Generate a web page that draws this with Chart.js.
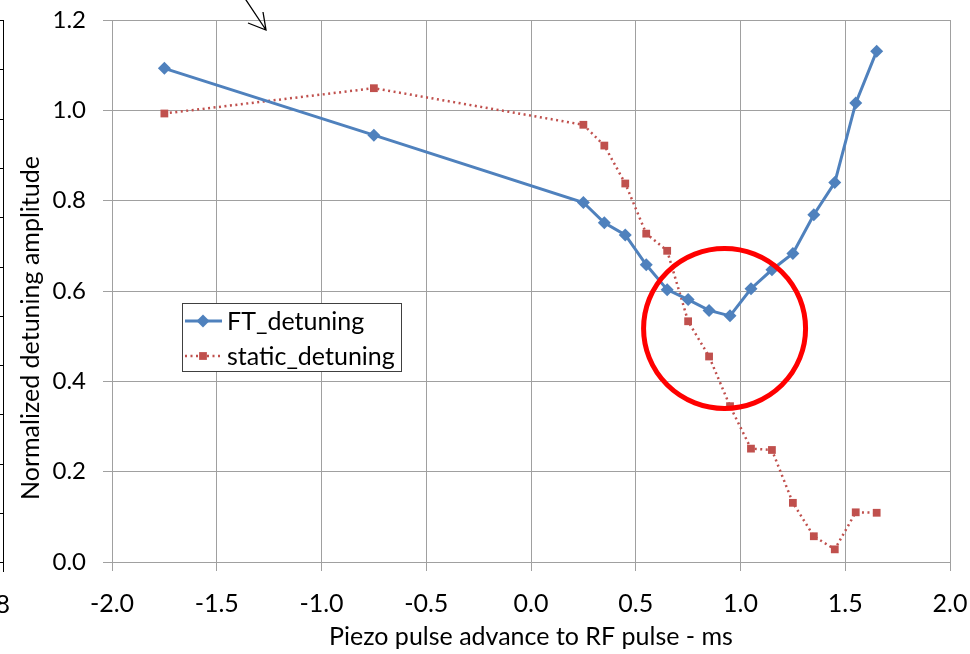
<!DOCTYPE html>
<html>
<head>
<meta charset="utf-8">
<script src="https://cdn.jsdelivr.net/npm/chart.js@4"></script>
<style>
  html, body { margin: 0; padding: 0; background: #fff; }
  #wrap { width: 970px; height: 654px; position: relative; }
</style>
</head>
<body>
<div id="wrap"><canvas id="c" width="970" height="654"></canvas></div>
<script>
const advance = [-1.75, -0.75, 0.25, 0.35, 0.45, 0.55, 0.65, 0.75, 0.85, 0.95, 1.05, 1.15, 1.25, 1.35, 1.45, 1.55, 1.65]
const ftDetuning = [1.093, 0.945, 0.796, 0.751, 0.724, 0.658, 0.603, 0.581, 0.557, 0.545, 0.605, 0.647, 0.683, 0.769, 0.840, 1.016, 1.131]
const staticDetuning = [0.993, 1.049, 0.968, 0.922, 0.838, 0.727, 0.689, 0.533, 0.455, 0.345, 0.251, 0.248, 0.131, 0.057, 0.028, 0.110, 0.109]
const seriesNames = ["FT_detuning", "static_detuning"]
const yTitle = "Normalized detuning amplitude"

const FONT = "Lato, 'Open Sans', sans-serif"
const BLUE = "#4f81bd"
const RED = "#c0504d"
const GRID = "#a0a0a0"

const toPoints = (xs, ys) => xs.map((x, i) => ({ x, y: ys[i] }))

// circle highlight, arrow, left-edge remnant, y title and the boxed legend
const extras = {
  id: "extras",
  afterDraw(chart) {
    const { ctx, scales: { x, y }, chartArea: a } = chart
    ctx.save()

    // red circle round the FT minimum
    ctx.strokeStyle = "#ff0000"
    ctx.lineWidth = 5
    ctx.beginPath()
    ctx.ellipse(x.getPixelForValue(0.924), y.getPixelForValue(0.517), 81, 80, 0, 0, Math.PI * 2)
    ctx.stroke()

    // arrow at the top
    ctx.strokeStyle = "#000"
    ctx.lineWidth = 1.3
    ctx.beginPath()
    ctx.moveTo(242, -6); ctx.lineTo(266, 30)
    ctx.moveTo(248, 23); ctx.lineTo(266, 30); ctx.lineTo(263, 12)
    ctx.stroke()

    // cut-off frame of a neighbouring chart
    ctx.lineWidth = 1
    ctx.beginPath()
    ctx.moveTo(3.5, a.top); ctx.lineTo(3.5, 572)
    for (let i = 0; i < 12; i++) {
      const ty = Math.round(a.top + i * 49.3) + 0.5
      ctx.moveTo(0, ty); ctx.lineTo(3.5, ty)
    }
    ctx.stroke()
    ctx.fillStyle = "#000"
    ctx.font = "25px " + FONT
    ctx.textAlign = "right"
    ctx.textBaseline = "middle"
    ctx.fillText("8", 10, 605)

    // y axis title (sits a little below the axis middle in the original)
    ctx.save()
    ctx.translate(31, 328)
    ctx.rotate(-Math.PI / 2)
    ctx.textAlign = "center"
    ctx.fillText(yTitle, 0, 0)
    ctx.restore()

    // legend box
    const lx = a.left + 70, ly = a.top + 283, lw = 219, lh = 68
    ctx.fillStyle = "#fff"
    ctx.fillRect(lx, ly, lw, lh)
    ctx.strokeStyle = "#404040"
    ctx.lineWidth = 1
    ctx.strokeRect(lx + 0.5, ly + 0.5, lw, lh)
    chart.data.datasets.forEach((ds, i) => {
      const ry = ly + 18 + i * 35
      ctx.strokeStyle = ds.borderColor
      ctx.lineWidth = ds.borderWidth
      ctx.setLineDash(ds.borderDash || [])
      ctx.beginPath()
      ctx.moveTo(lx + 3, ry); ctx.lineTo(lx + 40, ry)
      ctx.stroke()
      ctx.setLineDash([])
      ctx.fillStyle = ds.pointBackgroundColor
      Chart.helpers.drawPoint(ctx, {
        pointStyle: ds.pointStyle, radius: ds.pointRadius, borderWidth: 0
      }, lx + 21, ry)
      ctx.fillStyle = "#000"
      ctx.textAlign = "left"
      ctx.textBaseline = "middle"
      ctx.font = "25px " + FONT
      ctx.fillText(ds.label, lx + 45, ry + 1)
    })
    ctx.restore()
  }
}

new Chart(document.getElementById("c"), {
  type: "line",
  data: {
    datasets: [
      {
        label: seriesNames[0],
        data: toPoints(advance, ftDetuning),
        borderColor: BLUE,
        backgroundColor: BLUE,
        borderWidth: 3,
        pointStyle: "rectRot",
        pointRadius: 6.5,
        pointBackgroundColor: BLUE,
        pointBorderColor: BLUE,
        pointBorderWidth: 0,
        tension: 0
      },
      {
        label: seriesNames[1],
        data: toPoints(advance, staticDetuning),
        borderColor: RED,
        backgroundColor: RED,
        borderWidth: 2.5,
        borderDash: [2, 3.5],
        pointStyle: "rect",
        pointRadius: 5.5,
        pointBackgroundColor: RED,
        pointBorderColor: RED,
        pointBorderWidth: 0,
        tension: 0
      }
    ]
  },
  options: {
    responsive: false,
    animation: false,
    layout: { padding: { top: 20, right: 20, left: 0, bottom: 0 } },
    plugins: {
      legend: { display: false },
      tooltip: { enabled: false }
    },
    scales: {
      x: {
        type: "linear",
        min: -2, max: 2,
        afterFit: (s) => { s.height = 92; s.paddingLeft = 0; s.paddingRight = 0 },
        ticks: {
          stepSize: 0.5,
          padding: 18,
          color: "#000",
          font: { family: FONT, size: 25 },
          callback: (v) => v.toFixed(1)
        },
        grid: { color: GRID, tickLength: 9, tickColor: GRID },
        border: { color: GRID },
        title: {
          display: true,
          text: "Piezo pulse advance to RF pulse - ms",
          color: "#000",
          font: { family: FONT, size: 25 },
          padding: { top: 0, bottom: 2 }
        }
      },
      y: {
        min: 0, max: 1.2,
        afterFit: (s) => { s.width = 112; s.paddingTop = 0; s.paddingBottom = 0 },
        ticks: {
          stepSize: 0.2,
          padding: 17,
          color: "#000",
          font: { family: FONT, size: 24 },
          callback: (v) => v.toFixed(1)
        },
        grid: { color: GRID, tickLength: 9, tickColor: GRID },
        border: { color: GRID }
      }
    }
  },
  plugins: [extras]
})
</script>
</body>
</html>
